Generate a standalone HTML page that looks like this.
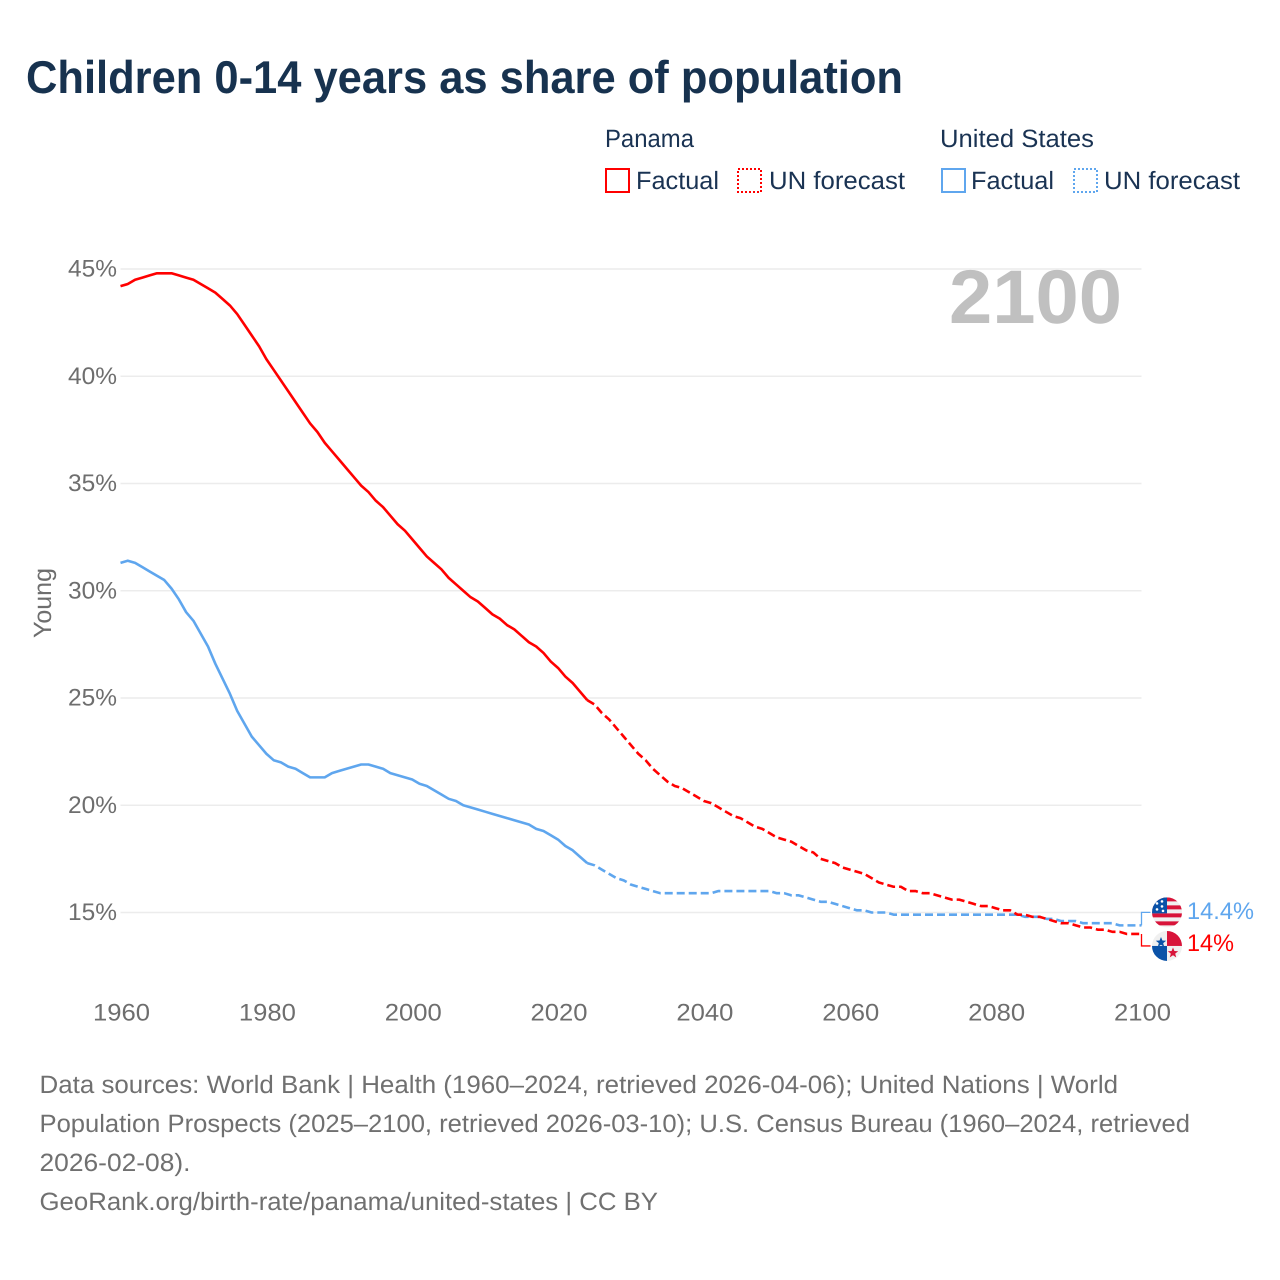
<!DOCTYPE html>
<html lang="en">
<head>
<meta charset="utf-8">
<title>Children 0-14 years as share of population</title>
<style>
  html, body { margin: 0; padding: 0; background: #fff; }
  svg { display: block; font-family: "Liberation Sans", "DejaVu Sans", sans-serif; }
  text { text-rendering: geometricPrecision; }
</style>
</head>
<body>
<svg id="chart" xmlns="http://www.w3.org/2000/svg" width="1280" height="1280" viewBox="0 0 1280 1280">
  <defs>
    <clipPath id="flag-clip"><circle cx="0" cy="0" r="15"></circle></clipPath>
  </defs>
  <rect x="0" y="0" width="1280" height="1280" fill="#ffffff"></rect>

  <text x="26" y="93" font-size="46" font-weight="700" fill="#17324f" textLength="877" lengthAdjust="spacingAndGlyphs">Children 0-14 years as share of population</text>

  <g>
    <text x="605" y="147" font-size="25" fill="#1a3353" textLength="89" lengthAdjust="spacingAndGlyphs">Panama</text>
    <rect x="606" y="169" width="23" height="23" fill="none" stroke="#ff0000" stroke-width="2"></rect>
    <text x="636" y="189" font-size="25" fill="#1a3353" textLength="83" lengthAdjust="spacingAndGlyphs">Factual</text>
    <rect x="738" y="169" width="23" height="23" fill="none" stroke="#ff0000" stroke-width="2" stroke-dasharray="2 2"></rect>
    <text x="769" y="189" font-size="25" fill="#1a3353" textLength="136" lengthAdjust="spacingAndGlyphs">UN forecast</text>

    <text x="940" y="147" font-size="25" fill="#1a3353" textLength="154" lengthAdjust="spacingAndGlyphs">United States</text>
    <rect x="942" y="169" width="23" height="23" fill="none" stroke="#5fa6ee" stroke-width="2"></rect>
    <text x="971" y="189" font-size="25" fill="#1a3353" textLength="83" lengthAdjust="spacingAndGlyphs">Factual</text>
    <rect x="1074" y="169" width="23" height="23" fill="none" stroke="#5fa6ee" stroke-width="2" stroke-dasharray="2 2"></rect>
    <text x="1104" y="189" font-size="25" fill="#1a3353" textLength="136" lengthAdjust="spacingAndGlyphs">UN forecast</text>
  </g>

  <g id="grid"></g>
  <text x="949" y="323" font-size="76" font-weight="700" fill="#c0c0c0" textLength="173" lengthAdjust="spacingAndGlyphs">2100</text>
  <g id="y-axis"></g>
  <g id="x-axis"></g>
  <text x="0" y="0" transform="translate(51 603) rotate(-90)" text-anchor="middle" font-size="25" fill="#6e6e6e" textLength="70" lengthAdjust="spacingAndGlyphs">Young</text>
  <g id="series"></g>

  <g id="flag-us">
    <g clip-path="url(#flag-clip)">
      <rect x="-15" y="-15" width="30" height="30" fill="#f0f0f0"></rect>
      <rect x="-15" y="-15" width="30" height="4" fill="#d8143a"></rect>
      <rect x="-15" y="-7" width="30" height="4" fill="#d8143a"></rect>
      <rect x="-15" y="1" width="30" height="4" fill="#d8143a"></rect>
      <rect x="-15" y="9" width="30" height="4" fill="#d8143a"></rect>
      <rect x="-15" y="-15" width="15" height="16" fill="#0a52a8"></rect>
      <circle cx="-10" cy="-9" r="1.3" fill="#fff"></circle>
      <circle cx="-5" cy="-11" r="1.3" fill="#fff"></circle>
      <circle cx="-5" cy="-6" r="1.3" fill="#fff"></circle>
      <circle cx="-10" cy="-3" r="1.3" fill="#fff"></circle>
      <circle cx="-4" cy="-1.5" r="1.3" fill="#fff"></circle>
    </g>
  </g>
  <g id="flag-pa">
    <g clip-path="url(#flag-clip)">
      <rect x="-15" y="-15" width="30" height="30" fill="#f0f0f0"></rect>
      <rect x="0" y="-15" width="15" height="15" fill="#d8143a"></rect>
      <rect x="-15" y="0" width="15" height="15" fill="#0a52a8"></rect>
      <path d="M-6-9 l1.4 3.6 3.8.2 -3 2.4 1 3.7 -3.2-2.1 -3.2 2.1 1-3.7 -3-2.4 3.8-.2z" fill="#0a52a8"></path>
      <path d="M6 1.5 l1.4 3.6 3.8.2 -3 2.4 1 3.7 -3.2-2.1 -3.2 2.1 1-3.7 -3-2.4 3.8-.2z" fill="#d8143a"></path>
    </g>
  </g>
  <g id="end-labels"></g>

  <g>
    <text x="39.5" y="1093" font-size="25" fill="#707070" textLength="1078.5" lengthAdjust="spacingAndGlyphs">Data sources: World Bank | Health (1960–2024, retrieved 2026-04-06); United Nations | World</text>
    <text x="39.5" y="1132" font-size="25" fill="#707070" textLength="1150.5" lengthAdjust="spacingAndGlyphs">Population Prospects (2025–2100, retrieved 2026-03-10); U.S. Census Bureau (1960–2024, retrieved</text>
    <text x="39.5" y="1171" font-size="25" fill="#707070" textLength="151" lengthAdjust="spacingAndGlyphs">2026-02-08).</text>
    <text x="39.5" y="1210" font-size="25" fill="#707070" textLength="618.5" lengthAdjust="spacingAndGlyphs">GeoRank.org/birth-rate/panama/united-states | CC BY</text>
  </g>
</svg>
<script>
const firstYear = 1960;
const lastFactualYear = 2024;
const xTickLabels = [1960, 1980, 2000, 2020, 2040, 2060, 2080, 2100];
const yTickValues = [15, 20, 25, 30, 35, 40, 45];
const panamaValues = [
  44.2,44.3,44.5,44.6,44.7,44.8,44.8,44.8,44.7,44.6,
  44.5,44.3,44.1,43.9,43.6,43.3,42.9,42.4,41.9,41.4,
  40.8,40.3,39.8,39.3,38.8,38.3,37.8,37.4,36.9,36.5,
  36.1,35.7,35.3,34.9,34.6,34.2,33.9,33.5,33.1,32.8,
  32.4,32.0,31.6,31.3,31.0,30.6,30.3,30.0,29.7,29.5,
  29.2,28.9,28.7,28.4,28.2,27.9,27.6,27.4,27.1,26.7,
  26.4,26.0,25.7,25.3,24.9,24.7,24.3,24.0,23.6,23.2,
  22.8,22.4,22.1,21.7,21.4,21.1,20.9,20.8,20.6,20.4,
  20.2,20.1,19.9,19.7,19.5,19.4,19.2,19.0,18.9,18.7,
  18.5,18.4,18.3,18.1,17.9,17.8,17.5,17.4,17.3,17.1,
  17.0,16.9,16.8,16.6,16.4,16.3,16.2,16.2,16.0,16.0,
  15.9,15.9,15.8,15.7,15.6,15.6,15.5,15.4,15.3,15.3,
  15.2,15.1,15.1,14.9,14.9,14.8,14.8,14.7,14.6,14.5,
  14.5,14.4,14.3,14.3,14.2,14.2,14.1,14.1,14.0,14.0,
  14.0
];
const unitedStatesValues = [
  31.3,31.4,31.3,31.1,30.9,30.7,30.5,30.1,29.6,29.0,
  28.6,28.0,27.4,26.6,25.9,25.2,24.4,23.8,23.2,22.8,
  22.4,22.1,22.0,21.8,21.7,21.5,21.3,21.3,21.3,21.5,
  21.6,21.7,21.8,21.9,21.9,21.8,21.7,21.5,21.4,21.3,
  21.2,21.0,20.9,20.7,20.5,20.3,20.2,20.0,19.9,19.8,
  19.7,19.6,19.5,19.4,19.3,19.2,19.1,18.9,18.8,18.6,
  18.4,18.1,17.9,17.6,17.3,17.2,17.0,16.8,16.6,16.5,
  16.3,16.2,16.1,16.0,15.9,15.9,15.9,15.9,15.9,15.9,
  15.9,15.9,16.0,16.0,16.0,16.0,16.0,16.0,16.0,16.0,
  15.9,15.9,15.8,15.8,15.7,15.6,15.5,15.5,15.4,15.3,
  15.2,15.1,15.1,15.0,15.0,15.0,14.9,14.9,14.9,14.9,
  14.9,14.9,14.9,14.9,14.9,14.9,14.9,14.9,14.9,14.9,
  14.9,14.9,14.9,14.9,14.8,14.8,14.8,14.7,14.7,14.6,
  14.6,14.6,14.5,14.5,14.5,14.5,14.5,14.4,14.4,14.4,
  14.4
];
const panamaEndLabel = "14%";
const unitedStatesEndLabel = "14.4%";

const NS = "http://www.w3.org/2000/svg";
const RED = "#ff0000";
const BLUE = "#5fa6ee";

function xScale(year) {
  return 120.5 + (year - 1960) * (1021 / 140);
}
function yScale(value) {
  return 912.5 - (value - 15) * (643.5 / 30);
}
function linePoints(values, from, to) {
  const pts = [];
  values.forEach(function (v, i) {
    const year = firstYear + i;
    if (year >= from && year <= to) {
      pts.push(xScale(year).toFixed(2) + "," + yScale(v).toFixed(2));
    }
  });
  return pts.join(" ");
}

const grid = document.getElementById("grid");
const yAxis = document.getElementById("y-axis");
yTickValues.forEach(function (t) {
  const line = document.createElementNS(NS, "line");
  
  
  line.setAttribute("x1", xScale(1960));
  line.setAttribute("x2", xScale(2100));
  line.setAttribute("y1", yScale(t));
  line.setAttribute("y2", yScale(t));
  line.setAttribute("stroke", "#ececec");
  line.setAttribute("stroke-width", "1.4");
  grid.appendChild(line);

  const label = document.createElementNS(NS, "text");
  
  
  label.setAttribute("x", 117);
  label.setAttribute("y", yScale(t) + 7.5);
  label.setAttribute("text-anchor", "end");
  label.setAttribute("font-size", "24");
  label.setAttribute("fill", "#6e6e6e");
  label.setAttribute("textLength", "49");
  label.setAttribute("lengthAdjust", "spacingAndGlyphs");
  label.textContent = t + "%";
  yAxis.appendChild(label);
});

const xAxis = document.getElementById("x-axis");
xTickLabels.forEach(function (t) {
  const label = document.createElementNS(NS, "text");
  
  
  label.setAttribute("x", xScale(t) + 1);
  label.setAttribute("y", 1020.5);
  label.setAttribute("text-anchor", "middle");
  label.setAttribute("font-size", "24");
  label.setAttribute("fill", "#6e6e6e");
  label.setAttribute("textLength", "57");
  label.setAttribute("lengthAdjust", "spacingAndGlyphs");
  label.textContent = t;
  xAxis.appendChild(label);
});

const seriesLayer = document.getElementById("series");

function drawConnector(name, values, color, flagY) {
  const last = values[values.length - 1];
  const xEnd = xScale(2100);
  const c = document.createElementNS(NS, "polyline");
  
  
  c.setAttribute("points", xEnd + "," + yScale(last) + " " + xEnd + "," + flagY + " " + (xEnd + 9) + "," + flagY);
  c.setAttribute("fill", "none");
  c.setAttribute("stroke", color);
  c.setAttribute("stroke-width", "1.3");
  seriesLayer.appendChild(c);
}

function drawFactual(name, values, color) {
  const l = document.createElementNS(NS, "polyline");
  
  
  l.setAttribute("points", linePoints(values, firstYear, lastFactualYear));
  l.setAttribute("fill", "none");
  l.setAttribute("stroke", color);
  l.setAttribute("stroke-width", "2.6");
  l.setAttribute("stroke-linejoin", "round");
  seriesLayer.appendChild(l);
}

function drawForecast(name, values, color) {
  const l = document.createElementNS(NS, "polyline");
  
  
  l.setAttribute("points", linePoints(values, lastFactualYear, 2100));
  l.setAttribute("fill", "none");
  l.setAttribute("stroke", color);
  l.setAttribute("stroke-width", "2.6");
  l.setAttribute("stroke-dasharray", "8 4");
  l.setAttribute("stroke-linejoin", "round");
  seriesLayer.appendChild(l);
}

const usLast = unitedStatesValues[unitedStatesValues.length - 1];
const paLast = panamaValues[panamaValues.length - 1];
const usFlagY = yScale(usLast) - 13;
const paFlagY = yScale(paLast) + 12;

drawConnector('connector-united-states', unitedStatesValues, BLUE, usFlagY);
drawConnector('connector-panama', panamaValues, RED, paFlagY);
drawFactual('line-united-states-factual', unitedStatesValues, BLUE);
drawForecast('line-united-states-forecast', unitedStatesValues, BLUE);
drawFactual('line-panama-factual', panamaValues, RED);
drawForecast('line-panama-forecast', panamaValues, RED);

document.getElementById("flag-us").setAttribute("transform", "translate(1167 " + usFlagY + ")");
document.getElementById("flag-pa").setAttribute("transform", "translate(1167 " + paFlagY + ")");

const endLabels = document.getElementById("end-labels");
const usLabel = document.createElementNS(NS, "text");


usLabel.setAttribute("x", 1187);
usLabel.setAttribute("y", usFlagY + 6.5);
usLabel.setAttribute("font-size", "24");
usLabel.setAttribute("fill", BLUE);
usLabel.setAttribute("textLength", "67");
usLabel.setAttribute("lengthAdjust", "spacingAndGlyphs");
usLabel.textContent = unitedStatesEndLabel;
endLabels.appendChild(usLabel);

const paLabel = document.createElementNS(NS, "text");


paLabel.setAttribute("x", 1187);
paLabel.setAttribute("y", paFlagY + 5);
paLabel.setAttribute("font-size", "24");
paLabel.setAttribute("fill", RED);
paLabel.setAttribute("textLength", "47");
paLabel.setAttribute("lengthAdjust", "spacingAndGlyphs");
paLabel.textContent = panamaEndLabel;
endLabels.appendChild(paLabel);
</script>
</body>
</html>
